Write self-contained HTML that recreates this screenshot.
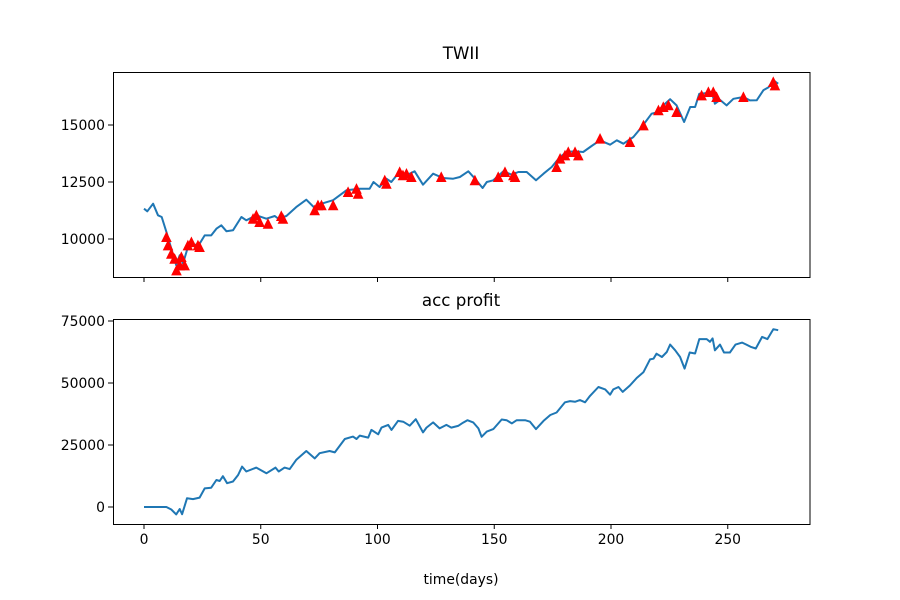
<!DOCTYPE html>
<html><head><meta charset="utf-8"><style>
body{margin:0;background:#fff}
svg{display:block;font-family:"DejaVu Sans","Liberation Sans",sans-serif}
</style></head><body>
<svg id="chart" width="900" height="600" viewBox="0 0 900 600">
<rect width="900" height="600" fill="#fff"/>
<text x="461" y="59" font-size="16.7" text-anchor="middle">TWII</text>
<text x="461" y="306" font-size="16.7" text-anchor="middle">acc profit</text>
<text x="461" y="584" font-size="13.9" text-anchor="middle">time(days)</text>
<g id="top"></g>
<g id="bot"></g>
</svg>
<script>
const twiiDays=[0,1.4,3.9,6,7.6,9.6,11.7,13.8,15.3,16.7,18.8,21,23.8,26,28.8,31,33.1,35.3,38.1,41.7,43.8,48.1,52.4,56,57.4,61,65.2,69.5,73.1,76,81,86.7,92.4,96.6,98.3,100.9,103.8,105.9,108.8,112.4,115.9,119.5,123.8,128,132.4,135.3,138.9,141.7,145,146.8,149.6,153.9,157.5,160.3,163.9,167.9,171.1,174.6,178.2,181,184.6,188.1,191.7,195.3,199.6,202.5,205.3,209.6,213.1,217.4,219.5,222.4,225.3,228.1,231.3,233.9,236,237.8,241,243.1,244.5,246.7,249.5,252.4,256.7,259.5,262.4,265.3,267.4,269.5,271.6];
const twiiValues=[11330,11215,11550,11040,10965,10310,9575,8850,9285,8920,9650,9720,9795,10160,10160,10450,10600,10340,10380,10965,10820,11040,10890,11010,10900,11010,11400,11725,11360,11550,11700,12135,12205,12205,12500,12280,12645,12500,12865,12795,12970,12380,12865,12675,12645,12720,12970,12650,12235,12500,12575,12970,12820,12940,12940,12575,12865,13160,13600,13815,13850,13815,14080,14330,14135,14330,14180,14475,14910,15495,15550,15860,16130,15860,15130,15790,15790,16375,16400,16450,15935,16100,15860,16150,16230,16080,16085,16530,16650,16960,16810];
const buyDays=[9.6,10.3,11.7,13.1,13.9,15.3,16,17.4,18.8,20.3,23.1,23.8,46.7,48.1,49.5,53.1,58.8,59.5,73.1,74.5,76,81,87.4,91,91.7,103.1,103.8,109.5,110.9,112.4,114.5,127.3,141.7,151.7,154.6,158.2,158.9,176.7,178.2,180.3,181.7,184.6,186,195.3,208.1,213.9,220.3,222.4,224.6,228.1,238.8,241.7,243.8,245.2,256.7,269.5,270.2];
const buyValues=[10088,9720,9355,9135,8625,8845,9210,8845,9720,9865,9720,9650,10890,11040,10745,10670,11010,10890,11260,11480,11480,11480,12060,12205,11985,12575,12425,12940,12795,12865,12720,12720,12575,12720,12940,12795,12720,13160,13525,13670,13815,13815,13670,14400,14255,14985,15645,15790,15865,15570,16300,16450,16450,16230,16230,16885,16740];
const profitDays=[0,9.6,11.7,13.8,15.3,16.3,18.4,21,23.8,26,28.8,31,32.4,33.8,35.6,38.1,40.3,42,43.8,48.1,52.4,56.3,57.7,60.2,62.4,65.2,69.5,73.1,75.2,79.5,81.7,86,89.5,91,92.4,96,97.4,100.3,101.7,104.6,106,108.8,111,113.8,116.4,119.5,121,123.8,126.6,129.5,131.6,134.5,136.6,138.5,141,143.2,144.6,146.8,149.6,153.2,155.3,157.5,159.6,163.2,165.3,167.9,171.1,174,176.7,180.3,182.5,184.6,186.7,188.9,191,194.6,197.5,199.6,201,203.2,205,208.1,211,213.9,216.7,218.2,219.5,221.8,223.9,225.3,227.5,229.6,231.5,233.7,236,237.8,241,242.4,243.5,244.5,246.7,248.4,250.9,253.3,256.2,258,259.8,262,264.7,267,269.5,271.6];
const profitValues=[0,0,-1000,-3000,-800,-2900,3500,3200,3800,7500,7800,10900,10500,12400,9600,10300,12900,16300,14300,15900,13600,15900,14300,15900,15300,19000,22600,19600,21700,22600,22000,27400,28400,27400,28800,28000,31100,29300,32000,33100,31100,34700,34400,32800,35400,30100,32000,34100,31700,33100,32000,32700,34000,35000,34100,31700,28300,30400,31400,35300,35000,33700,35000,35000,34400,31400,34700,37100,38100,42200,42700,42400,43100,42200,44800,48400,47400,45300,47400,48400,46400,49000,52000,54400,59500,59800,61800,60500,62500,65500,63200,60500,55800,62300,61900,67700,67700,66600,68000,63200,65500,62300,62300,65500,66300,65500,64600,63900,68600,67700,71700,71300];
const xTicks=[0,50,100,150,200,250];
const topTicks=[10000,12500,15000];
const botTicks=[0,25000,50000,75000];

const NS='http://www.w3.org/2000/svg';
const X=d=>144+d*2.335;
const YT=v=>239-(v-10000)*57/2500;
const YB=v=>507-v*62/25000;
function mk(parent,tag,attrs){const e=document.createElementNS(NS,tag);for(const k in attrs)e.setAttribute(k,attrs[k]);parent.appendChild(e);return e;}

function panel(g,top,bottom,ticks,Y,labelX,days,vals,name){
  const line=mk(g,'polyline',{points:days.map((d,i)=>X(d).toFixed(1)+','+Y(vals[i]).toFixed(1)).join(' '),fill:'none',stroke:'#1f77b4','stroke-width':2,'stroke-linejoin':'round'});
  
  
  ticks.forEach(t=>{
    const tk=mk(g,'line',{x1:108,x2:113,y1:Y(t),y2:Y(t),stroke:'#000','stroke-width':1});
    
    
    const tl=mk(g,'text',{x:105,y:Y(t)+5,'font-size':13.9,'text-anchor':'end'});
    tl.textContent=String(t);
    
    
  });
  xTicks.forEach(t=>{
    const tk=mk(g,'line',{x1:X(t),x2:X(t),y1:bottom,y2:bottom+5,stroke:'#000','stroke-width':1});
    
    
    if(labelX){
      const tl=mk(g,'text',{x:X(t),y:bottom+20,'font-size':13.9,'text-anchor':'middle'});
      tl.textContent=String(t);
      
      
    }
  });
  const fr=mk(g,'rect',{x:113.5,y:top+0.5,width:696.5,height:bottom-top,fill:'none',stroke:'#000','stroke-width':1});
  
  
}
const gt=document.getElementById('top'),gb=document.getElementById('bot');
panel(gt,72,277,topTicks,YT,false,twiiDays,twiiValues,'twii');
// buy markers on top of the line
buyDays.forEach((d,i)=>{
  const x=X(d),y=YT(buyValues[i]),r=4.5;
  const m=mk(gt,'polygon',{points:`${x},${y-r} ${x-r},${y+r} ${x+r},${y+r}`,fill:'#ff0000',stroke:'#ff0000','stroke-width':1});
  
  
});
panel(gb,319,524,botTicks,YB,true,profitDays,profitValues,'profit');
</script>
</body></html>
